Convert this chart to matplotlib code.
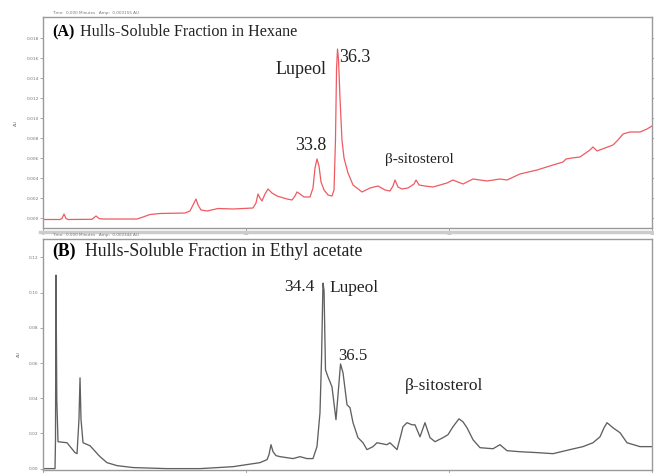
import matplotlib
matplotlib.use("Agg")
import matplotlib.pyplot as plt

# ---- Panel A: hexane fraction (time in min, amplitude in AU) ----
a_time = [0, 2.09, 2.34, 2.59, 2.83, 3.08, 6.03, 6.53, 6.90, 7.39, 11.58, 12.32, 13.18,
          14.41, 17.49, 18.10, 18.60, 18.84, 19.09, 19.46, 20.20, 21.55, 23.40, 25.86,
          26.23, 26.48, 26.72, 26.97, 27.34, 27.71, 28.20, 28.82, 30.05, 30.67, 31.03,
          31.28, 31.65, 32.14, 32.88, 33.25, 33.50, 33.74, 33.99, 34.24, 34.61, 35.10,
          35.59, 35.84, 36.02, 36.15, 36.27, 36.39, 36.58, 36.82, 37.07, 37.56, 38.18,
          39.29, 40.27, 41.26, 42.12, 42.73, 43.10, 43.35, 43.72, 44.21, 44.95, 45.69,
          45.94, 46.31, 47.04, 48.03, 49.75, 50.49, 51.72, 52.96, 54.68, 56.28, 57.14,
          58.74, 60.84, 62.81, 64.04, 64.41, 65.15, 66.13, 67.36, 67.73, 68.23, 69.21,
          70.20, 70.81, 71.43, 72.29, 73.52, 74.38, 75.00]
a_amp = [-0.00015, -0.00015, -0.00005, 0.0004, -0.00005, -0.00015, -0.00013, 0.0002,
         -0.00005, -0.0001, -0.0001, 0.0001, 0.00035, 0.00045, 0.0005, 0.0007, 0.0015,
         0.0019, 0.0013, 0.0008, 0.0007, 0.00095, 0.0009, 0.001, 0.0015, 0.0024, 0.002,
         0.0017, 0.0024, 0.0029, 0.0025, 0.0022, 0.0019, 0.0018, 0.0022, 0.0026, 0.0024,
         0.0021, 0.0021, 0.003, 0.005, 0.0059, 0.0052, 0.0036, 0.0028, 0.0023, 0.0022,
         0.0028, 0.0078, 0.0149, 0.0169, 0.0159, 0.0119, 0.0078, 0.006, 0.0045, 0.0033,
         0.0026, 0.003, 0.0032, 0.0028, 0.0027, 0.0032, 0.0038, 0.0031, 0.0029, 0.003,
         0.0034, 0.0038, 0.0033, 0.0032, 0.0031, 0.0035, 0.0038, 0.0034, 0.0039, 0.0037,
         0.0039, 0.0038, 0.0044, 0.0048, 0.0053, 0.0056, 0.0059, 0.006, 0.0061, 0.0068,
         0.0071, 0.0067, 0.007, 0.0073, 0.0078, 0.0084, 0.0086, 0.0086, 0.0089, 0.0092]

# ---- Panel B: ethyl acetate fraction ----
b_time = [0, 1.48, 1.54, 1.60, 1.70, 1.85, 2.96, 3.94, 4.19, 4.43, 4.56, 4.68, 4.93, 5.79,
          7.02, 7.88, 9.11, 11.08, 15.27, 19.33, 23.40, 26.72, 27.59, 27.83, 28.08, 28.33,
          28.69, 29.19, 30.79, 31.65, 32.51, 33.25, 33.74, 34.11, 34.30, 34.48, 34.61,
          34.79, 35.10, 35.59, 36.08, 36.33, 36.64, 36.95, 37.44, 37.81, 38.18, 38.79,
          39.41, 39.90, 40.64, 41.13, 42.36, 42.73, 43.60, 44.09, 44.33, 44.83, 45.44,
          45.81, 46.43, 47.04, 47.66, 48.28, 49.26, 49.88, 50.49, 51.23, 51.72, 52.22,
          52.96, 53.82, 55.42, 56.28, 57.14, 58.74, 60.84, 62.81, 64.90, 66.50, 67.73,
          68.60, 69.09, 69.46, 70.20, 71.06, 71.92, 73.52, 75.00]
b_amp = [0, 0, 0.0164, 0.110, 0.039, 0.0153, 0.0147, 0.0091, 0.0085, 0.028, 0.0516, 0.028,
         0.0147, 0.013, 0.0068, 0.0034, 0.0017, 0.0006, 0, 0, 0.0011, 0.0034, 0.0051,
         0.0079, 0.0136, 0.0096, 0.0074, 0.0068, 0.0057, 0.0068, 0.0057, 0.0057, 0.0125,
         0.0317, 0.0618, 0.1054, 0.1014, 0.0561, 0.0521, 0.0465, 0.0278, 0.0419, 0.0595,
         0.0544, 0.0363, 0.0346, 0.0261, 0.0176, 0.0147, 0.0108, 0.0125, 0.0147, 0.0136,
         0.0147, 0.0108, 0.0193, 0.0238, 0.0261, 0.0249, 0.0249, 0.0181, 0.0261, 0.0176,
         0.0153, 0.0176, 0.0193, 0.0238, 0.0283, 0.0266, 0.0232, 0.0164, 0.0119, 0.0113,
         0.0136, 0.0102, 0.0096, 0.0091, 0.0085, 0.0108, 0.0125, 0.0147, 0.0181, 0.0232,
         0.0261, 0.0232, 0.0204, 0.0147, 0.0125, 0.0125]

a_yticks = [0.000, 0.002, 0.004, 0.006, 0.008, 0.010, 0.012, 0.014, 0.016, 0.018]
b_yticks = [0.00, 0.02, 0.04, 0.06, 0.08, 0.10, 0.12]
x_ticks = [0, 25, 50, 75]

serif = ["Liberation Serif", "DejaVu Serif"]
W, H = 654, 473
fig = plt.figure(figsize=(W / 100, H / 100), dpi=100)
fig.patch.set_facecolor("white")

def px_box(x0, y0, x1, y1):
    return [x0 / W, 1 - y1 / H, (x1 - x0) / W, (y1 - y0) / H]

axA = fig.add_axes(px_box(43, 17, 652, 228))
axB = fig.add_axes(px_box(43, 239, 652, 469.5))

for ax in (axA, axB):
    for s in ax.spines.values():
        s.set_color("#9a9a9a")
        s.set_linewidth(1.0)
    ax.tick_params(axis="both", which="both", labelsize=3.2, labelcolor="#777777",
                   color="#999999", length=2, width=0.6, pad=1)
    ax.set_ylabel("AU", fontsize=3.2, color="#777777", labelpad=6)

axA.plot(a_time, a_amp, color="#ef5a62", lw=0.9)
axA.set_xlim(0, 75)
axA.set_ylim(-0.001, 0.0201)
axA.set_yticks(a_yticks)
axA.set_yticklabels([f"{v:.3f}" for v in a_yticks])
axA.set_xticks(x_ticks)
axA.tick_params(axis="y", right=True, direction="out")
txt = "#222222"
axA.text(1.1, 0.0186, "(A)", fontsize=11.6, fontweight="bold", family=serif, va="center")
axA.text(4.5, 0.0186, "Hulls-Soluble Fraction in Hexane", fontsize=11.6, family=serif,
         va="center", color=txt)
axA.text(28.6, 0.0149, "Lupeol", fontsize=13, family=serif, va="center", color=txt)
axA.text(36.45, 0.0161, "36.3", fontsize=13, family=serif, va="center", color=txt)
axA.text(31.0, 0.0072, "33.8", fontsize=13, family=serif, va="center", color=txt)
axA.text(42.1, 0.0058, "β-sitosterol", fontsize=11, family=serif, va="center", color=txt)

axB.plot(b_time, b_amp, color="#606060", lw=0.95)
axB.set_xlim(0, 75)
axB.set_ylim(-0.0005, 0.1305)
axB.set_yticks(b_yticks)
axB.set_yticklabels([f"{v:.2f}" for v in b_yticks])
axB.set_xticks(x_ticks)
axB.set_xticklabels([])
axB.text(1.2, 0.1235, "(B)", fontsize=12.8, fontweight="bold", family=serif, va="center")
axB.text(5.2, 0.1235, "Hulls-Soluble Fraction in Ethyl acetate", fontsize=12.8,
         family=serif, va="center", color=txt)
axB.text(29.7, 0.1031, "34.4", fontsize=12.5, family=serif, va="center", color=txt)
axB.text(35.3, 0.1026, "Lupeol", fontsize=12.5, family=serif, va="center", color=txt)
axB.text(36.3, 0.064, "36.5", fontsize=12, family=serif, va="center", color=txt)
axB.text(44.6, 0.047, "β-sitosterol", fontsize=12.5, family=serif, va="center", color=txt)

fig.text(52 / W, 1 - 13 / H, "Time:  0.000 Minutes   Amp:  0.000155 AU", fontsize=3,
         color="#777777", va="center")
fig.text(52 / W, 1 - 235 / H, "Time:  0.000 Minutes   Amp:  0.000344 AU", fontsize=3,
         color="#777777", va="center")
fig.add_artist(plt.Line2D([40 / W, 1], [1 - 232 / H, 1 - 232 / H], color="#cccccc",
                          lw=2.5))

fig.savefig("out.png", dpi=100)
